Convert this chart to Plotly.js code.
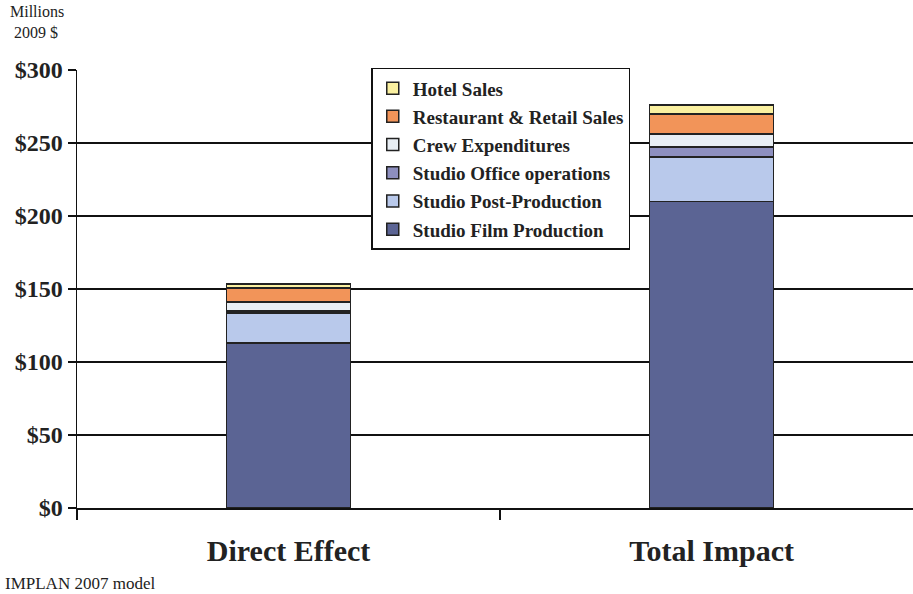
<!DOCTYPE html>
<html>
<head>
<meta charset="utf-8">
<script src="https://cdn.plot.ly/plotly-3.0.1.min.js"></script>
<style>html,body{margin:0;padding:0;background:#fff;}#chart{width:913px;height:594px;}</style>
</head>
<body>
<div id="chart"></div>
<script>
var categories = ["Direct Effect", "Total Impact"];
var seriesNames = ["Studio Film Production", "Studio Post-Production", "Studio Office operations", "Crew Expenditures", "Restaurant & Retail Sales", "Hotel Sales"];
var filmProduction = [113, 210];
var postProduction = [20.6, 30.4];
var officeOperations = [1.4, 6.9];
var crewExpenditures = [6, 8.9];
var restaurantRetail = [9.7, 13.7];
var hotelSales = [2.7, 6];
var seriesColors = ["#5b6494", "#b9c9eb", "#8d8fbf", "#e8eef4", "#f29459", "#faf0a0"];
var yTickVals = [0, 50, 100, 150, 200, 250, 300];
var yTickText = ["$0", "$50", "$100", "$150", "$200", "$250", "$300"];

var allSeries = [filmProduction, postProduction, officeOperations, crewExpenditures, restaurantRetail, hotelSales];
var serif = "Liberation Serif, 'Times New Roman', serif";

var traces = allSeries.map(function (vals, i) {
  return {
    type: "bar",
    name: seriesNames[i],
    x: categories,
    y: vals,
    legendgroup: "g" + i,
    legendrank: allSeries.length - i,
    marker: { color: seriesColors[i], line: { color: "#222", width: 1.5 } },
    width: 0.293,
    hoverinfo: "skip"
  };
});

var layout = {
  width: 913,
  height: 594,
  margin: { l: 77, r: 0, t: 70, b: 86 },
  barmode: "stack",
  paper_bgcolor: "#fff",
  plot_bgcolor: "#fff",
  showlegend: true,
  legend: {
    x: 0.352, y: 1.005, xanchor: "left", yanchor: "top",
    bgcolor: "#fff", bordercolor: "#111", borderwidth: 1.5,
    traceorder: "grouped", tracegroupgap: 0.5,
    font: { family: serif, size: 19, color: "#222", weight: "bold" }
  },
  xaxis: {
    type: "category",
    range: [-0.5, 1.476],
    showline: true, linecolor: "#111", linewidth: 1.5,
    showgrid: false,
    tickson: "boundaries", ticks: "outside", ticklen: 10, tickwidth: 1.5, tickcolor: "#111",
    ticklabelstandoff: 15,
    tickfont: { family: serif, size: 30, color: "#222", weight: "bold" },
    fixedrange: true
  },
  yaxis: {
    range: [0, 300],
    tickvals: yTickVals, ticktext: yTickText,
    showline: true, linecolor: "#111", linewidth: 1.5,
    showgrid: true, gridcolor: "#111", gridwidth: 1.2,
    zeroline: false,
    ticks: "outside", ticklen: 8, tickwidth: 1.5, tickcolor: "#111",
    tickfont: { family: serif, size: 24, color: "#222", weight: "bold" },
    fixedrange: true
  },
  annotations: [
    {
      xref: "paper", yref: "paper", x: -0.082, y: 1.158, xanchor: "left", yanchor: "top",
      text: "Millions<br> 2009 $", align: "left", showarrow: false,
      font: { family: serif, size: 16, color: "#222" }
    },
    {
      xref: "paper", yref: "paper", x: -0.089, y: -0.173, xanchor: "left", yanchor: "middle",
      text: "IMPLAN 2007 model", showarrow: false,
      font: { family: serif, size: 17, color: "#222" }
    }
  ]
};

Plotly.newPlot("chart", traces, layout, { displayModeBar: false, staticPlot: true });
</script>
</body>
</html>
